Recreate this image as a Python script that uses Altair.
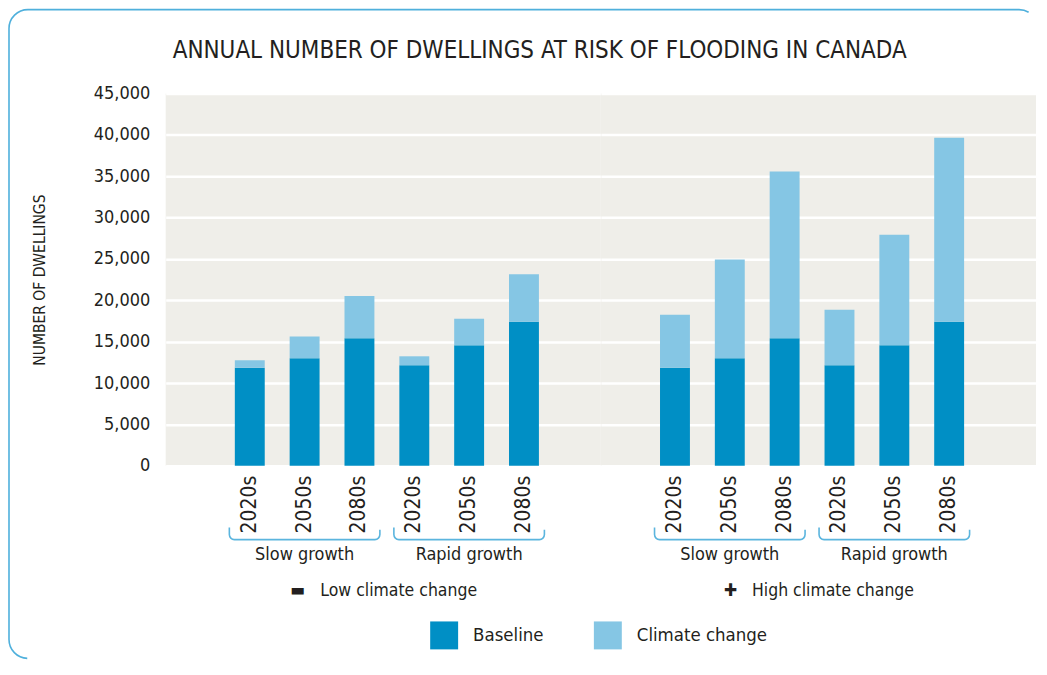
import altair as alt
import pandas as pd

# ---------------- data ----------------
scenarios = ["Low climate change", "High climate change"]
scenario_signs = ["▬", "✚"]
growths = ["Slow growth", "Rapid growth"]
decades = ["2020s", "2050s", "2080s"]
components = ["Baseline", "Climate change"]

# baseline dwellings at risk (same under both climate scenarios)
baseline_slow = [11850, 13000, 15400]
baseline_rapid = [12150, 14550, 17400]
# additional dwellings at risk due to climate change
climate_low_slow = [900, 2620, 5120]
climate_low_rapid = [1080, 3220, 5750]
climate_high_slow = [6400, 11940, 20180]
climate_high_rapid = [6700, 13380, 22240]

y_ticks = [0, 5000, 10000, 15000, 20000, 25000, 30000, 35000, 40000, 45000]

baseline = {"Slow growth": baseline_slow, "Rapid growth": baseline_rapid}
climate = {
    ("Low climate change", "Slow growth"): climate_low_slow,
    ("Low climate change", "Rapid growth"): climate_low_rapid,
    ("High climate change", "Slow growth"): climate_high_slow,
    ("High climate change", "Rapid growth"): climate_high_rapid,
}

rows = []
for s in scenarios:
    for g in growths:
        for i, dec in enumerate(decades):
            rows.append({"scenario": s, "growth": g, "decade": dec,
                         "component": "Baseline", "order": 0,
                         "dwellings": baseline[g][i]})
            rows.append({"scenario": s, "growth": g, "decade": dec,
                         "component": "Climate change", "order": 1,
                         "dwellings": climate[(s, g)][i]})
df = pd.DataFrame(rows)

# ---------------- styling ----------------
FONT = "Liberation Sans Narrow, DejaVu Sans Condensed, Roboto Condensed, Roboto, sans-serif"
TXT = "#231f20"
BLUE_DARK = "#008fc5"
BLUE_LIGHT = "#85c6e4"
BRACKET = "#5bb5de"
BG = "#efeee9"
W, H = 436, 373
NBSP = "\u00a0"


def panel(idx):
    scen = scenarios[idx]
    d = df[df.scenario == scen]
    xs = alt.Scale(domain=growths, paddingInner=0.085, paddingOuter=0.365,
                   align=0.53 if idx == 0 else 0.447)
    xo = alt.Scale(domain=decades, paddingInner=0.4545, paddingOuter=0.1)
    xaxis = alt.Axis(
        title=f"{scenario_signs[idx]}{NBSP * 3}{scen}", ticks=False, domain=False,
        grid=False, labelAngle=0, labelPadding=80, labelFontSize=18,
        labelFont=FONT, labelColor=TXT, titleFont=FONT, titleFontSize=17.5,
        titleFontWeight="normal", titleColor=TXT, titlePadding=18,
    )
    if idx == 0:
        yaxis = alt.Axis(
            values=y_ticks, format=",d", ticks=False, domain=False,
            labelPadding=16, labelFontSize=18, labelFont=FONT, labelColor=TXT,
            title="NUMBER OF DWELLINGS", titleFont=FONT, titleFontSize=15.5,
            titleFontWeight="normal", titleColor=TXT, titleAngle=270,
            titleX=-126, titleY=H / 2, titleAlign="center", titleBaseline="middle",
        )
    else:
        yaxis = alt.Axis(values=y_ticks, labels=False, ticks=False,
                         domain=False, title=None)

    x_enc = alt.X("growth:N", scale=xs, axis=xaxis, sort=growths)
    xo_enc = alt.XOffset("decade:N", scale=xo, sort=decades)

    bars = alt.Chart(d).mark_bar().encode(
        x=x_enc,
        xOffset=xo_enc,
        y=alt.Y("dwellings:Q", stack="zero",
                scale=alt.Scale(domain=[0, 45000], nice=False), axis=yaxis),
        color=alt.Color(
            "component:N",
            scale=alt.Scale(domain=components, range=[BLUE_DARK, BLUE_LIGHT]),
            legend=alt.Legend(
                title=None, orient="none", direction="horizontal",
                legendX=265, legendY=529, padding=0,
                symbolType="square", symbolSize=784, symbolStrokeWidth=0,
                symbolOpacity=1, labelFont=FONT, labelFontSize=18.5,
                labelColor=TXT, labelOffset=15, columnPadding=50,
            ),
        ),
        order=alt.Order("order:Q"),
    )

    dec_df = d[d.component == "Baseline"][["growth", "decade"]]
    dec_text = alt.Chart(dec_df).mark_text(
        angle=270, align="right", baseline="middle", font=FONT,
        fontSize=21, color=TXT,
    ).encode(x=x_enc, xOffset=xo_enc, y=alt.value(H + 10), text="decade:N")

    br_df = pd.DataFrame({"growth": growths})
    brackets = alt.Chart(br_df).mark_bar(
        fill="transparent", stroke=BRACKET, strokeWidth=1.6,
        cornerRadiusBottomLeft=5, cornerRadiusBottomRight=5,
        strokeDash=[0, 153, 400, 0],
    ).encode(x=x_enc, y=alt.value(435), y2=alt.value(447))

    layers = [bars, brackets, dec_text]
    if idx == 0:
        frame = alt.Chart(pd.DataFrame({"k": [0]})).mark_rect(
            fill="transparent", stroke="#4fb0dc", strokeWidth=1.6,
            cornerRadius=19, strokeDash=[1003, 1655, 700, 0],
        ).encode(x=alt.value(-157), x2=alt.value(874),
                 y=alt.value(-84), y2=alt.value(566))
        layers = [frame] + layers
    return alt.layer(*layers).properties(width=W, height=H)


chart = alt.hconcat(panel(0), panel(1), spacing=0, bounds="flush").properties(
    title=alt.TitleParams(
        "ANNUAL NUMBER OF DWELLINGS AT RISK OF FLOODING IN CANADA",
        anchor="start", frame="group", dx=7, offset=-54,
        font=FONT, fontSize=24, fontWeight="normal", color=TXT,
    ),
    padding=0,
    background="white",
).configure_view(stroke=None, fill=BG).configure_axis(
    gridColor="white", gridWidth=2.5, gridOpacity=1,
)

chart.save("out.html", embed_options={"renderer": "svg", "actions": False})
